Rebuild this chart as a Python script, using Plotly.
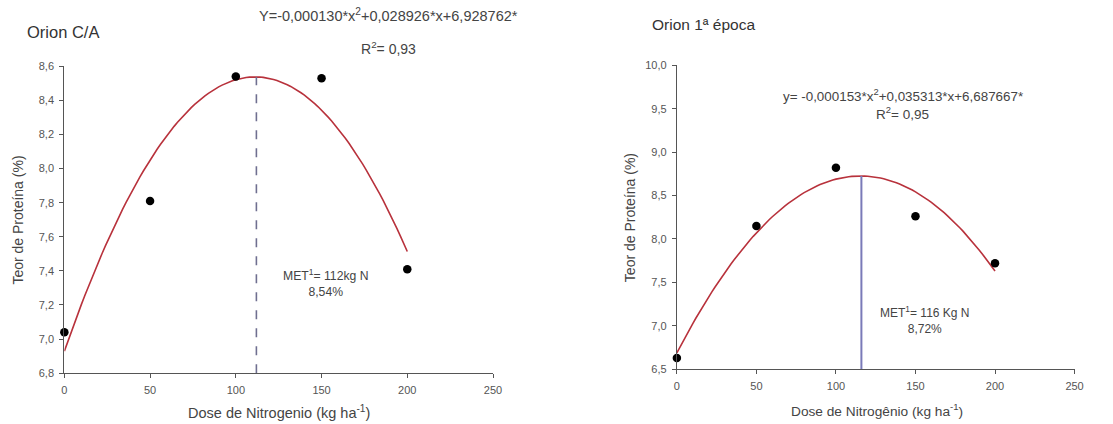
import plotly.graph_objects as go

# ---- data ----
dose = [0, 50, 100, 150, 200]
prot_ca = [7.04, 7.81, 8.54, 8.53, 7.41]
prot_1ep = [6.63, 8.15, 8.82, 8.26, 7.72]

# regression coefficients (a*x^2 + b*x + c) as printed on the chart
coef_ca = [-0.000130, 0.028926, 6.928762]
coef_1ep = [-0.000153, 0.035313, 6.687667]

met_ca = [112, 8.54]
met_1ep = [116, 8.72]

x_ticks = [0, 50, 100, 150, 200, 250]
y_ticks_ca = [6.8, 7.0, 7.2, 7.4, 7.6, 7.8, 8.0, 8.2, 8.4, 8.6]
y_ticks_ca_lbl = ["6,8", "7,0", "7,2", "7,4", "7,6", "7,8", "8,0", "8,2", "8,4", "8,6"]
y_ticks_1ep = [6.5, 7.0, 7.5, 8.0, 8.5, 9.0, 9.5, 10.0]
y_ticks_1ep_lbl = ["6,5", "7,0", "7,5", "8,0", "8,5", "9,0", "9,5", "10,0"]

curve_x = list(range(0, 201, 2))

def poly(c, xs):
    return [c[0] * x * x + c[1] * x + c[2] for x in xs]

W, H = 1113, 424
FONT = "Liberation Sans, Arial, sans-serif"
RED = "#b8323c"
TXT = "#444444"

# pixel position (as seen in the reference) -> paper fraction
def fx(px):
    return ((px - 2.6) / 0.990) / W

def fy(py):
    return 1 - ((py - 5.7) / 0.972) / H

fig = go.Figure()

# left panel
fig.add_trace(go.Scatter(x=curve_x, y=poly(coef_ca, curve_x), mode="lines",
                         line=dict(color=RED, width=1.6), xaxis="x", yaxis="y",
                         showlegend=False, hoverinfo="skip"))
fig.add_trace(go.Scatter(x=[met_ca[0], met_ca[0]], y=[6.8, poly(coef_ca, [met_ca[0]])[0]],
                         mode="lines", line=dict(color="#6f6f90", width=1.6, dash="dash"),
                         xaxis="x", yaxis="y", showlegend=False))
fig.add_trace(go.Scatter(x=dose, y=prot_ca, mode="markers",
                         marker=dict(color="black", size=8.5), xaxis="x", yaxis="y",
                         showlegend=False, cliponaxis=False))

# right panel
fig.add_trace(go.Scatter(x=curve_x, y=poly(coef_1ep, curve_x), mode="lines",
                         line=dict(color=RED, width=1.6), xaxis="x2", yaxis="y2",
                         showlegend=False, hoverinfo="skip"))
fig.add_trace(go.Scatter(x=[met_1ep[0], met_1ep[0]], y=[6.5, poly(coef_1ep, [met_1ep[0]])[0]],
                         mode="lines", line=dict(color="#7a7ab8", width=2),
                         xaxis="x2", yaxis="y2", showlegend=False))
fig.add_trace(go.Scatter(x=dose, y=prot_1ep, mode="markers",
                         marker=dict(color="black", size=8.5), xaxis="x2", yaxis="y2",
                         showlegend=False, cliponaxis=False))

axis_common = dict(showline=True, linecolor="#555555", linewidth=1.2, ticks="outside",
                   ticklen=4, tickcolor="#555555", showgrid=False, zeroline=False,
                   tickfont=dict(family=FONT, size=11, color="#555555"))

fig.update_layout(
    autosize=True, margin=dict(l=0, r=0, t=0, b=0),
    paper_bgcolor="white", plot_bgcolor="white",
    xaxis=dict(domain=[fx(64), fx(493)], range=[0, 250], tickvals=x_ticks,
               anchor="y", ticklabelstandoff=3, **axis_common),
    yaxis=dict(domain=[fy(373), fy(66)], range=[6.8, 8.6],
               tickvals=y_ticks_ca, ticktext=y_ticks_ca_lbl, anchor="x",
               ticklabelstandoff=3, **axis_common),
    xaxis2=dict(domain=[fx(677), fx(1075)], range=[0, 250], tickvals=x_ticks,
                anchor="y2", ticklabelstandoff=3, **axis_common),
    yaxis2=dict(domain=[fy(369), fy(65)], range=[6.5, 10.0],
                tickvals=y_ticks_1ep, ticktext=y_ticks_1ep_lbl, anchor="x2",
                ticklabelstandoff=3, **axis_common),
)

def ann(x, y, text, size=10, angle=0, xanchor="center", color=TXT):
    fig.add_annotation(x=fx(x), y=fy(y), xref="paper", yref="paper", text=text,
                       showarrow=False, xanchor=xanchor, yanchor="middle", textangle=angle,
                       font=dict(family=FONT, size=size, color=color))

# titles
ann(25, 32, "Orion C/A", size=16.5, xanchor="left", color="#333333")
ann(650, 24, "Orion 1ª época", size=15.5, xanchor="left", color="#333333")

# equations
ann(388, 15, "Y=-0,000130*x<sup>2</sup>+0,028926*x+6,928762*", size=14.5)
ann(388, 48, "R<sup>2</sup>= 0,93", size=14)
ann(903, 95, "y= -0,000153*x<sup>2</sup>+0,035313*x+6,687667*", size=13.4)
ann(903, 113, "R<sup>2</sup>= 0,95", size=13.5)

# MET annotations
ann(325, 283, "MET<sup>1</sup>= 112kg N<br>8,54%", size=12.2)
ann(925, 320, "MET<sup>1</sup>= 116 Kg N<br>8,72%", size=12)

# axis titles
ann(18, 220, "Teor de Proteína (%)", size=14, angle=-90)
ann(630, 217, "Teor de Proteína (%)", size=14, angle=-90)
ann(279, 412, "Dose de Nitrogenio (kg ha<sup>-1</sup>)", size=14.5)
ann(877, 410, "Dose de Nitrogênio (kg ha<sup>-1</sup>)", size=13.7)

fig.write_html("out.html", default_width="100vw", default_height="100vh",
               config={"displayModeBar": False},
               post_script="document.body.style.margin='0px';document.body.style.overflow='hidden';")
